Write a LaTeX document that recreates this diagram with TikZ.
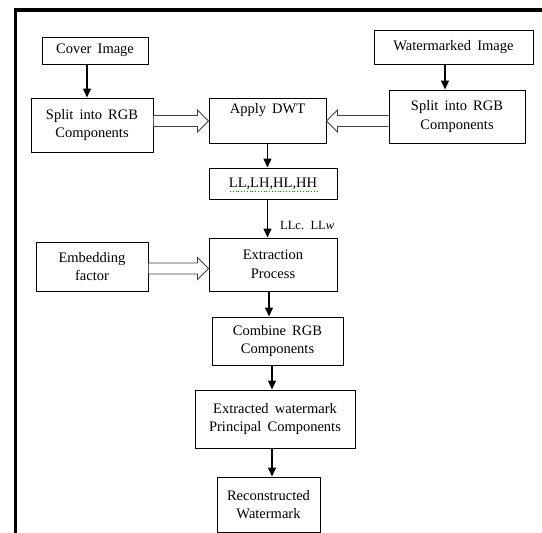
\documentclass[tikz,border=0pt]{standalone}
\usepackage{fontspec}
\setmainfont{Liberation Serif}[WordSpace=1.7]
\usetikzlibrary{calc,arrows.meta}
\newcommand{\hollowarrow}[2]{%
  \draw[hol] ($(#1)+(0,-5.5)$) -- ($(#2)!11pt!(#1)+(0,-5.5)$) -- ($(#2)!11pt!(#1)+(0,-11)$)
    -- (#2) -- ($(#2)!11pt!(#1)+(0,11)$) -- ($(#2)!11pt!(#1)+(0,5.5)$) -- ($(#1)+(0,5.5)$);}
\begin{document}
\begin{tikzpicture}[x=1pt,y=-1pt,
  box/.style={draw=black,line width=1pt,rectangle,inner sep=0pt,align=center,
    font=\fontsize{14.5}{18.5}\selectfont},
  arr/.style={draw=black,line width=1.4pt,-{Triangle[length=9pt,width=8pt]}},
  hol/.style={draw=black!75,line width=0.9pt,fill=white,line join=miter}]
\useasboundingbox (0,0) rectangle (542,533);
\fill[white] (0,0) rectangle (542,533);
\draw[line width=3.5pt] (15.5,540) -- (15.5,10) -- (550,10);

\node[box,minimum width=106pt,minimum height=27pt] (cover) at (95,50.5) {Cover Image};
\node[box,minimum width=159pt,minimum height=34pt] (wm) at (453.5,47) {Watermarked Image};
\node[box,minimum width=122pt,minimum height=54pt] (splitL) at (92,125) {Split into RGB\\Components};
\node[box,minimum width=117pt,minimum height=45pt] (dwt) at (267.5,120.5) {Apply DWT\\[6pt]};
\node[box,minimum width=136pt,minimum height=53pt] (splitR) at (457,116.5) {Split into RGB\\Components};
\node[box,minimum width=128pt,minimum height=31pt] (ll) at (273,183.5) {LL,LH,HL,HH};
\node[box,minimum width=128pt,minimum height=53pt] (ext) at (273,264.5) {Extraction\\Process};
\node[box,minimum width=112pt,minimum height=49pt] (emb) at (92,266.5) {Embedding\\factor};
\node[box,minimum width=131pt,minimum height=48pt] (comb) at (277.5,341) {Combine RGB\\Components};
\node[box,minimum width=160pt,minimum height=58pt] (exw) at (275,419) {Extracted watermark\\Principal Components};
\node[box,minimum width=103pt,minimum height=55pt] (rec) at (268.5,504.5) {Reconstructed\\Watermark};
\node[font=\fontsize{12.5}{14}\selectfont,anchor=west,inner sep=0pt] (lab) at (280,225) {LLc. LL\textit{w}};

\draw[green!60!black,dotted,line width=0.8pt] ($(ll.center)+(-43,7.5)$) -- ($(ll.center)+(45,7.5)$);

\draw[arr] ([xshift=-8pt]cover.south) -- ([xshift=-8pt]cover.south |- splitL.north);
\draw[arr] ([xshift=-8.5pt]wm.south) -- ([xshift=-8.5pt]wm.south |- splitR.north);
\draw[arr] (dwt.south) -- (dwt.south |- ll.north);
\draw[arr] (ll.south -| dwt.south) -- (ext.north -| dwt.south);
\draw[arr] ([xshift=-4pt]ext.south) -- ([xshift=-4pt]ext.south |- comb.north);
\draw[arr] ([xshift=-5.5pt]comb.south) -- ([xshift=-5.5pt]comb.south |- exw.north);
\draw[arr] ([xshift=-3pt]exw.south) -- ([xshift=-3pt]exw.south |- rec.north);

\coordinate (dL) at ($(dwt.west)+(0,0.5)$);
\coordinate (dR) at ($(dwt.east)+(0,0.5)$);
\coordinate (sL) at (splitL.east |- dL);
\coordinate (sR) at (splitR.west |- dR);
\coordinate (eL) at (ext.west |- 0,268.5);
\coordinate (sE) at (emb.east |- eL);
\hollowarrow{sL}{dL}
\hollowarrow{sR}{dR}
\hollowarrow{sE}{eL}
\end{tikzpicture}
\end{document}
